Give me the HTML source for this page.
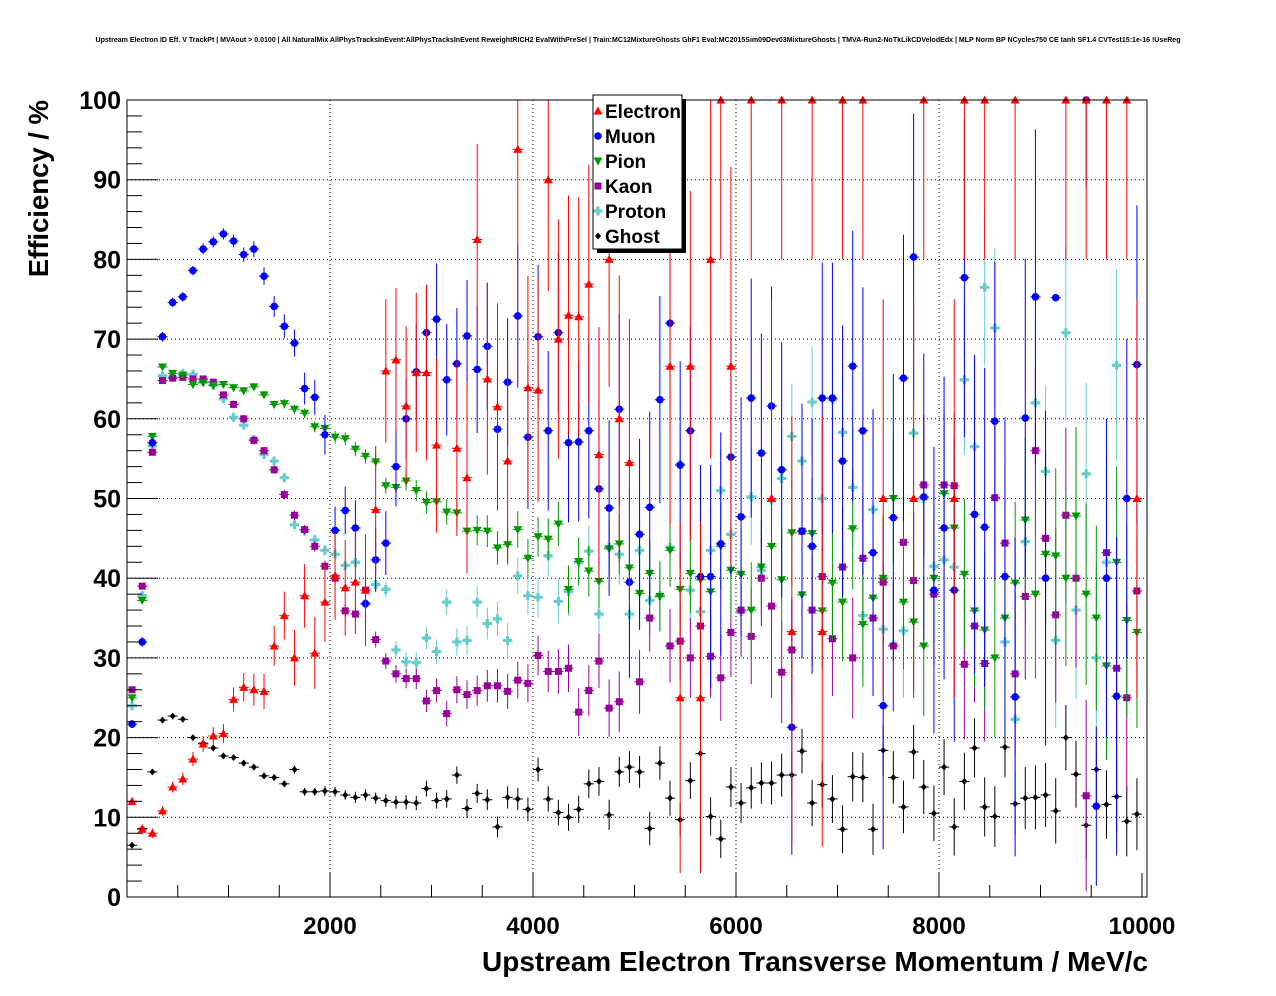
<!DOCTYPE html>
<html><head><meta charset="utf-8"><style>
html,body{margin:0;padding:0;background:#fff;}
svg{display:block;font-family:"Liberation Sans",sans-serif;}
</style></head><body>
<svg id="chart" width="1276" height="996" viewBox="0 0 1276 996" xmlns="http://www.w3.org/2000/svg">
<rect width="1276" height="996" fill="#fff"/>
<text x="638" y="42" font-size="7.3" font-weight="bold" text-anchor="middle" textLength="1085" lengthAdjust="spacingAndGlyphs">Upstream Electron ID Eff. V TrackPt | MVAout &gt; 0.0100 | All NaturalMix AllPhysTracksInEvent:AllPhysTracksInEvent ReweightRICH2 EvalWithPreSel | Train:MC12MixtureGhosts GhF1 Eval:MC2015Sim09Dev03MixtureGhosts | TMVA-Run2-NoTkLikCDVelodEdx | MLP Norm BP NCycles750 CE tanh SF1.4 CVTest15:1e-16 !UseReg</text>
<g id="grid"></g>
<g id="marks"></g>
<rect x="127" y="100" width="1020" height="797" fill="none" stroke="#000" stroke-width="1"/>
<g id="axes"></g>
<text x="1148" y="971" font-size="28" font-weight="bold" text-anchor="end">Upstream Electron Transverse Momentum / MeV/c</text>
<text transform="translate(48,100) rotate(-90)" font-size="27.5" font-weight="bold" text-anchor="end">Efficiency / %</text>
<g id="legend"></g>
</svg>
<script>
const xTicks=[2000,4000,6000,8000,10000];
const yTicks=[0,10,20,30,40,50,60,70,80,90,100];
const binWidth=100;
const electron=[12,8.5,8,10.8,13.8,14.8,17.3,19.2,20.2,20.5,24.8,26.3,26,25.8,31.5,35.3,30,37.8,30.6,37,40.3,38.8,39.5,38.5,48.6,66,67.4,61.6,65.8,65.8,56.7,null,56.3,52.6,82.5,65,61.5,54.7,93.8,63.9,63.6,90,70,73,72.8,76.9,55.5,80,60,54.5,null,null,null,66.6,25,66.6,25,80,100,66.6,null,100,null,50,100,33.3,null,100,33.3,null,100,null,100,null,50,null,null,50,100,null,null,50,100,null,100,null,null,100,null,null,null,null,100,null,100,null,100,null,100,50];
const electronErr=[0.5,0.6,0.6,0.6,0.7,0.8,0.9,1,1.1,1.2,1.5,1.8,2,2.2,2.5,3,3.5,4,4.5,5,5.5,6,6.5,7,8,9,9,10,10,11,11,0,11,12,12,12,13,13,12,14,14,14,15,15,15,15,16,16,18,18,0,0,0,20,22,22,22,25,20,25,0,20,0,25,20,27,0,20,27,0,20,0,20,0,25,0,0,25,20,0,0,25,20,0,20,0,0,20,0,0,0,0,20,0,20,0,20,0,20,25];
const muon=[21.7,32,57,70.3,74.6,75.3,78.6,81.3,82.2,83.2,82.3,80.6,81.3,77.9,74.1,71.6,69.5,63.8,62.7,58,46,48.5,46.3,36.8,42.3,44.4,54,60,65.9,70.8,72.5,64.9,66.9,70.4,66.2,69.1,58.7,64.6,72.9,57.7,70.3,58.5,70.8,57,57.1,58.5,51.2,48.8,61.2,39.5,45.5,48.9,62.4,72,54.2,58.5,40.2,40.2,44.3,55.2,47.7,62.6,55.7,61.6,53.6,21.3,45.9,44,62.6,62.6,54.7,66.6,58.5,43.2,24,47.6,65.1,80.3,50.2,38.5,46.3,38.5,77.7,48,46.4,59.7,40.2,25.1,60.1,75.3,40,75.2,null,null,100,11.4,40,25.2,50,66.8];
const muonErr=[0.5,0.6,0.6,0.6,0.6,0.6,0.6,0.7,0.7,0.7,0.8,0.9,1,1.1,1.3,1.5,1.7,2,2.2,2.5,3,3,3.5,3.5,4,4,5,5,6,6,7,7,7,7,8,8,8,8,9,9,9,10,10,10,10,11,11,11,12,12,12,12,13,13,13,13,14,14,14,15,15,15,15,15,16,16,16,16,17,17,17,17,18,18,18,18,18,18,18,18,19,19,20,20,20,20,20,20,20,21,21,0,0,0,11,10,20,20,20,20];
const pion=[25,37.2,57.8,66.5,65.7,65.5,64.3,64.5,64.2,64.3,63.9,63.5,64,63,61.8,61.9,61.2,60.7,59,58.8,57.7,57.5,56.2,55.3,54.6,51.6,51.4,52.2,51,49.5,49.6,48.3,48.2,45.9,46,45.9,43.8,44.2,46.1,42.5,45.2,44.9,46.8,38.6,42.1,40.9,39.6,43.7,44.3,41.3,38.1,40.6,37.7,43.5,38.6,40.6,39.8,38.3,44,41,40.5,36,41.4,44,39.8,45.7,37.9,45.6,35.9,39.4,37,46.2,34.2,37.5,40,50,37,34.5,31.5,40,50.6,46.3,40.5,35.9,33.5,30,35,39.4,47.3,38,43,42.8,40,47.8,38,35,29,42,34.7,33.2];
const pionErr=[0.4,0.4,0.4,0.4,0.4,0.4,0.4,0.4,0.4,0.4,0.5,0.5,0.5,0.5,0.5,0.6,0.6,0.6,0.7,0.7,0.8,0.8,0.9,0.9,1,1,1.1,1.2,1.3,1.4,1.5,1.6,1.7,1.8,1.9,2,2.1,2.2,2.3,2.4,2.5,2.6,2.8,3,3,3.2,3.4,3.6,3.8,4,4,4.2,4.4,4.6,4.8,5,5,5.2,5.4,5.6,5.8,6,6,6.2,6.4,6.6,6.8,7,7,7.2,7.4,7.6,7.8,8,8,8.2,8.4,8.6,8.8,9,9,9.2,9.4,9.6,9.8,10,10,10.2,10.4,10.6,10.8,11,11,11.2,11.4,11.6,11.8,12,12,12];
const kaon=[26,39,55.8,64.8,65.1,65.2,65,65,64.6,63,61.8,60,57.3,56,53.6,50.5,47.9,46.1,44,41.5,40,35.9,35.5,38.5,32.3,29.6,28,27.4,27.4,24.6,25.9,23,26,25.4,25.9,26.5,26.5,25.8,27.2,26.8,30.3,28.3,28.3,28.7,23.2,25.9,29.6,23.7,24.5,null,27,35,null,31.5,32.1,30,34,30.2,27.5,33.2,36,32.7,40,36.5,28.2,31,45.9,36,40.2,32.4,41.4,30,42.5,35,39.5,31.5,44.5,39.7,51.7,38,51.7,51.6,29.2,34,29.3,50.1,44.4,28,37.7,56,45,35.4,47.9,40,12.7,null,43.2,28.7,25,38.4];
const kaonErr=[0.4,0.4,0.4,0.4,0.4,0.4,0.4,0.4,0.4,0.4,0.5,0.5,0.5,0.5,0.5,0.6,0.6,0.6,0.7,0.7,0.8,0.8,0.9,0.9,1,1,1.1,1.2,1.3,1.4,1.5,1.6,1.7,1.8,1.9,2,2.1,2.2,2.3,2.4,2.5,2.6,2.8,3,3,3.2,3.4,3.6,3.8,0,4,4.2,0,4.6,4.8,5,5,5.2,5.4,5.6,5.8,6,6,6.2,6.4,6.6,6.8,7,7,7.2,7.4,7.6,7.8,8,8,8.2,8.4,8.6,8.8,9,9,9.2,9.4,9.6,9.8,10,10,10.2,10.4,10.6,10.8,11,11,11.2,12,0,11.6,11.8,12,12];
const proton=[24,37.8,56.6,65.4,65.2,65.7,65.6,64.7,64.2,62.5,60.2,59.2,57.4,55.5,54.7,52.6,46.7,45.9,44.8,43.5,43,41.6,42,36.8,39.2,38.6,31,29.5,29.4,32.5,30.8,37,32,32.2,37,34.3,34.9,32.2,40.3,37.8,37.6,42.8,37.1,38.3,42,43.4,35.5,43.9,43,35.5,43.5,37.2,37.8,43.9,54.3,38.5,35.8,43.5,51,45.5,35.8,50.2,41,49.8,52.5,57.8,54.7,62.1,50,62.4,58.3,51.4,35.3,48.6,33.6,31.6,33.4,58.2,50,41.5,42.3,41.4,64.9,56.5,76.5,71.4,32,22.3,44.6,62,53.4,32.2,70.8,36,53.1,30,42,66.7,null,null];
const protonErr=[0.4,0.4,0.4,0.4,0.4,0.4,0.4,0.4,0.4,0.4,0.5,0.5,0.5,0.5,0.5,0.6,0.6,0.6,0.7,0.7,0.8,0.8,0.9,0.9,1,1,1.1,1.2,1.3,1.4,1.5,1.6,1.7,1.8,1.9,2,2.1,2.2,2.3,2.4,2.5,2.6,2.8,3,3,3.2,3.4,3.6,3.8,4,4,4.2,4.4,4.6,4.8,5,5,5.2,5.4,5.6,5.8,6,6,6.2,6.4,6.6,6.8,7,7,7.2,7.4,7.6,7.8,8,8,8.2,8.4,8.6,8.8,9,9,9.2,9.4,9.6,9.8,10,10,10.2,10.4,10.6,10.8,11,11,11.2,11.4,11.6,11.8,12,0,0];
const ghost=[6.5,8.6,15.7,22.2,22.7,22.3,20,19.3,18.7,17.7,17.5,16.8,16.3,15.2,15,14.2,16,13.2,13.2,13.3,13.2,12.8,12.5,12.8,12.4,12.1,11.9,11.9,11.8,13.6,12.1,12.3,15.3,11.1,13,12.2,8.8,12.5,12.3,11,16,12.3,10.6,10,11,14.2,14.5,10.3,15.7,16.3,15.7,8.6,16.8,12.4,9.7,14.6,18,10.1,7.3,13.8,11.8,13.7,14.3,14.3,15.3,15.3,18.3,11.8,14.1,12.3,8.5,15.1,15,8.5,18.4,15,11.3,18.2,13.8,10.5,16.3,8.8,14.5,18.7,11.3,10.1,18.8,11.7,12.4,12.5,12.8,10.8,20,15.4,9,16,11.6,12.6,9.5,10.4];
const ghostErr=[0.3,0.3,0.3,0.3,0.3,0.3,0.3,0.3,0.3,0.3,0.3,0.3,0.4,0.4,0.4,0.4,0.5,0.5,0.5,0.6,0.6,0.6,0.7,0.7,0.7,0.8,0.8,0.9,0.9,1,1,1.1,1.1,1.2,1.2,1.3,1.3,1.4,1.4,1.5,1.5,1.6,1.6,1.7,1.7,1.8,1.8,1.9,1.9,2,2,2.1,2.1,2.2,2.2,2.3,2.3,2.4,2.4,2.5,2.5,2.6,2.6,2.7,2.7,2.8,2.8,2.9,2.9,3,3,3.1,3.1,3.2,3.2,3.3,3.3,3.4,3.4,3.5,3.5,3.6,3.6,3.7,3.7,3.8,3.8,3.9,3.9,4,4,4.1,4.1,4.2,4.2,4.3,4.3,4.4,4.4,4.5];

const NS='http://www.w3.org/2000/svg';
const X0=127,X1=1142,Y0=897,Y1=100,XMAX=10000;
function sx(v){return X0+(v/XMAX)*(X1-X0);}
function sy(v){return Y0-(v/100)*(Y0-Y1);}
function mk(tag,attrs,parent){const e=document.createElementNS(NS,tag);for(const k in attrs)e.setAttribute(k,attrs[k]);parent.appendChild(e);return e;}
const grid=document.getElementById('grid'),axes=document.getElementById('axes'),marks=document.getElementById('marks');
xTicks.forEach(t=>{
  const x=sx(t);
  if(t<XMAX){const g=mk('line',{x1:x,x2:x,y1:Y1,y2:Y0,stroke:'#000','stroke-width':1,'stroke-dasharray':'1,3'},grid);
  
  }
  const tk=mk('line',{x1:x,x2:x,y1:Y0,y2:Y0-24,stroke:'#000','stroke-width':1},axes);
  
  
  const lb=mk('text',{x:x,y:934,'font-size':24,'font-weight':'bold','text-anchor':'middle'},axes);
  lb.textContent=t;
  
  
});
for(let v=500;v<XMAX;v+=500){if(v%2000===0)continue;mk('line',{x1:sx(v),x2:sx(v),y1:Y0,y2:Y0-12,stroke:'#000'},axes);}
yTicks.forEach(t=>{
  const y=sy(t);
  if(t>0&&t<100){const g=mk('line',{x1:X0,x2:1147,y1:y,y2:y,stroke:'#000','stroke-width':1,'stroke-dasharray':'1,3'},grid);
  
  }
  const tk=mk('line',{x1:X0,x2:X0+31,y1:y,y2:y,stroke:'#000'},axes);
  
  
  const lb=mk('text',{x:121,y:y+9,'font-size':25,'font-weight':'bold','text-anchor':'end'},axes);
  lb.textContent=t;
  
  
});
for(let v=2;v<100;v+=2){if(v%10===0)continue;mk('line',{x1:X0,x2:X0+15,y1:sy(v),y2:sy(v),stroke:'#000'},axes);}

function marker(shape,x,y,c,p){
  const s=4.5;
  if(shape==='tu')return mk('polygon',{points:`${x},${y-s} ${x-s},${y+s-1} ${x+s},${y+s-1}`,fill:c},p);
  if(shape==='td')return mk('polygon',{points:`${x},${y+s} ${x-s},${y-s+1} ${x+s},${y-s+1}`,fill:c},p);
  if(shape==='c')return mk('circle',{cx:x,cy:y,r:3.8,fill:c},p);
  if(shape==='sq')return mk('rect',{x:x-3.5,y:y-3.5,width:7,height:7,fill:c},p);
  if(shape==='cr')return mk('path',{d:`M${x-1.6},${y-4.5}h3.2v2.9h2.9v3.2h-2.9v2.9h-3.2v-2.9h-2.9v-3.2h2.9z`,fill:c},p);
  return mk('polygon',{points:`${x},${y-3.5} ${x-3},${y} ${x},${y+3.5} ${x+3},${y}`,fill:c},p);
}
const series=[
 {name:'electron',label:'Electron',vals:electron,errs:electronErr,color:'#ff0000',shape:'tu'},
 {name:'muon',label:'Muon',vals:muon,errs:muonErr,color:'#0000ff',shape:'c'},
 {name:'pion',label:'Pion',vals:pion,errs:pionErr,color:'#009900',shape:'td'},
 {name:'kaon',label:'Kaon',vals:kaon,errs:kaonErr,color:'#990099',shape:'sq'},
 {name:'proton',label:'Proton',vals:proton,errs:protonErr,color:'#66cccc',shape:'cr'},
 {name:'ghost',label:'Ghost',vals:ghost,errs:ghostErr,color:'#000000',shape:'dm'}
];
[...series].reverse().forEach(s=>{
  const g=mk('g',{},marks);
  
  
  s.vals.forEach((v,i)=>{
    if(v===null)return;
    const xc=(i+0.5)*binWidth,x=sx(xc),y=sy(v),e=s.errs[i]||0;
    const yt=sy(Math.min(100,v+e)),yb=sy(Math.max(0,v-e));
    mk('line',{x1:x,x2:x,y1:yt,y2:yb,stroke:s.color,'stroke-width':1},g);
    mk('line',{x1:sx(xc-binWidth/2),x2:sx(xc+binWidth/2),y1:y,y2:y,stroke:s.color,'stroke-width':1},g);
    const m=marker(s.shape,x,y,s.color,g);
    
    
  });
});
const lg=document.getElementById('legend');
mk('rect',{x:597,y:99,width:89,height:154,fill:'#000'},lg);
mk('rect',{x:593,y:95,width:89,height:154,fill:'#fff',stroke:'#000','stroke-width':1},lg);
series.forEach((s,i)=>{
  const y=111+i*25;
  const e=mk('g',{},lg);
  
  
  marker(s.shape,598,y,s.color,e);
  const t=mk('text',{x:605,y:y+7,'font-size':19,'font-weight':'bold'},e);
  t.textContent=s.label;
});
</script>
</body></html>
